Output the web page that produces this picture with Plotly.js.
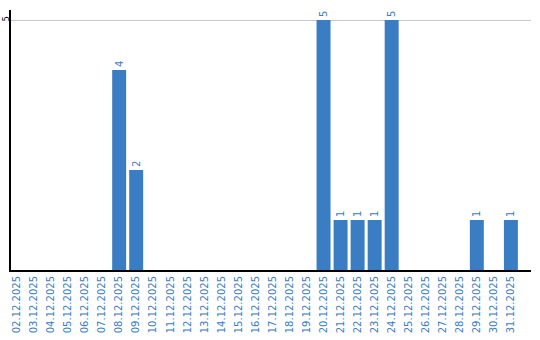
<!DOCTYPE html>
<html>
<head>
<meta charset="utf-8">
<script src="https://cdn.plot.ly/plotly-3.0.1.min.js"></script>
<style>html,body{margin:0;padding:0;background:#fff;}#chart{width:540px;height:340px;}</style>
</head>
<body>
<div id="chart"></div>
<script>
var dates = ["02.12.2025","03.12.2025","04.12.2025","05.12.2025","06.12.2025","07.12.2025","08.12.2025","09.12.2025","10.12.2025","11.12.2025","12.12.2025","13.12.2025","14.12.2025","15.12.2025","16.12.2025","17.12.2025","18.12.2025","19.12.2025","20.12.2025","21.12.2025","22.12.2025","23.12.2025","24.12.2025","25.12.2025","26.12.2025","27.12.2025","28.12.2025","29.12.2025","30.12.2025","31.12.2025"];
var counts = [0,0,0,0,0,0,4,2,0,0,0,0,0,0,0,0,0,0,5,1,1,1,5,0,0,0,0,1,0,1];
var labels = counts.map(function(v){ return v > 0 ? String(v) : ""; });
var barColor = "#3a7dc2";

var trace = {
  type: "bar",
  x: dates,
  y: counts,
  text: labels,
  textposition: "outside",
  textangle: -90,
  cliponaxis: false,
  textfont: {family: "DejaVu Sans", size: 10, color: barColor},
  marker: {color: barColor},
  hoverinfo: "none"
};
var layout = {
  width: 540, height: 340,
  margin: {l: 11, r: 9, t: 10, b: 70},
  paper_bgcolor: "#fff", plot_bgcolor: "#fff",
  bargap: 0.18,
  showlegend: false,
  xaxis: {
    type: "category",
    range: [-0.35, 30.18],
    tickangle: -90,
    tickfont: {family: "DejaVu Sans", size: 10, color: barColor},
    showline: true, linecolor: "#000", linewidth: 2,
    showgrid: false, ticks: "", zeroline: false
  },
  yaxis: {
    range: [0, 5.2],
    tickvals: [5],
    ticktext: ["5"],
    tickangle: -90,
    ticklabelstandoff: -3,
    tickfont: {family: "DejaVu Sans", size: 8, color: "#000"},
    showline: true, linecolor: "#000", linewidth: 2,
    showgrid: true, gridcolor: "#c8c8c8", gridwidth: 1,
    ticks: "", zeroline: false
  }
};
Plotly.newPlot("chart", [trace], layout, {staticPlot: true, displayModeBar: false});
</script>
</body>
</html>
